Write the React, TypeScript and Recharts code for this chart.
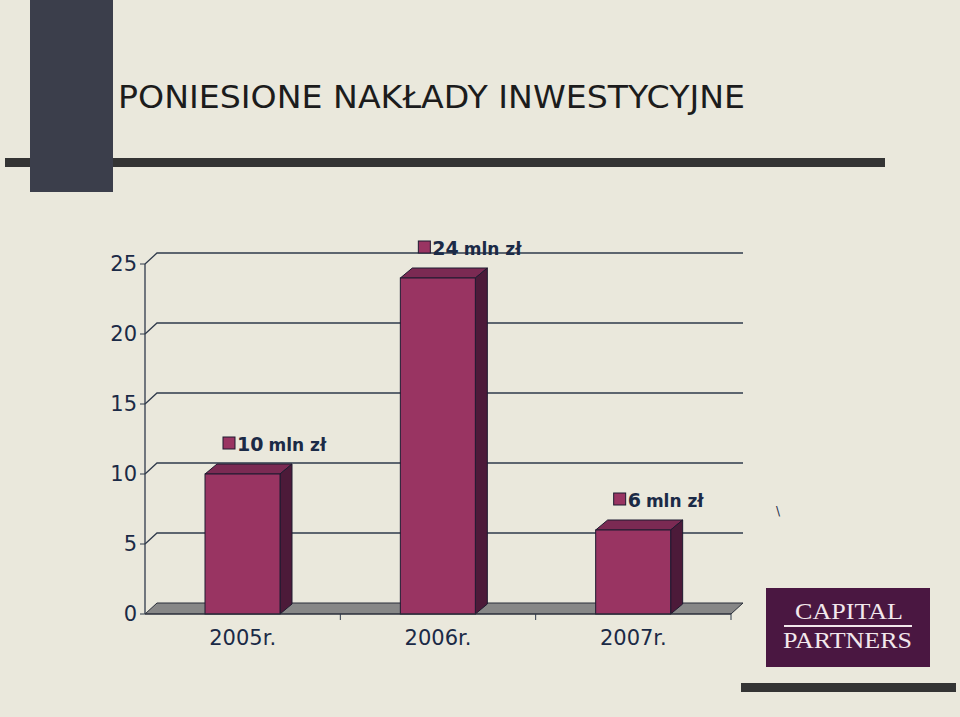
import { BarChart, Bar, XAxis, YAxis, CartesianGrid, LabelList } from 'recharts'

const categories = ['2005r.', '2006r.', '2007r.']
const investments = [10, 24, 6]
const yTicks = [0, 5, 10, 15, 20, 25]
const unit = 'mln zł'
const title = 'PONIESIONE NAKŁADY INWESTYCYJNE'

const data = categories.map((name, i) => ({ name, value: investments[i] }))

// 3D depth of the back wall
const DX = 12
const DY = 11

const FONT = '"DejaVu Sans", Verdana, sans-serif'
const INK = '#1b2a46'
const EDGE = '#1f1a30'
const GRID = '#2f3a4b'

const Bar3D = (props: any) => {
  const { x, y, width, height } = props
  return (
    <g>
      <path
        d={`M${x},${y} L${x + DX},${y - DY + 1} L${x + width + DX},${y - DY + 1} L${x + width},${y} Z`}
        fill="#7b2a53"
        stroke={EDGE}
        strokeWidth={1}
      />
      <path
        d={`M${x + width},${y} L${x + width + DX},${y - DY + 1} L${x + width + DX},${y + height - DY + 1} L${x + width},${y + height} Z`}
        fill="#4c1a39"
        stroke={EDGE}
        strokeWidth={1}
      />
      <rect x={x} y={y} width={width} height={height} fill="#993462" stroke={EDGE} strokeWidth={1} />
    </g>
  )
}

const BarLabel = (props: any) => {
  const { x, y, value } = props
  return (
    <g>
      <rect x={x + 18} y={y - 37} width={12} height={12} fill="#993462" stroke={EDGE} strokeWidth={1} />
      <text x={x + 32} y={y - 23} fill={INK} fontFamily={FONT} fontWeight="bold">
        <tspan fontSize={19}>{value}</tspan>
        <tspan fontSize={17} dx={5}>{unit}</tspan>
      </text>
    </g>
  )
}

// back-wall grid lines; the lowest one becomes the grey floor
const GridLine = (props: any) => {
  const { x1, y1, x2, y2, index } = props
  if (index === 0) {
    return (
      <path
        d={`M${x1},${y1} L${x1 + DX},${y1 - DY} L${x2 + DX},${y2 - DY} L${x2},${y2} Z`}
        fill="#878787"
        stroke="#2a2f3a"
        strokeWidth={1}
      />
    )
  }
  return (
    <path
      d={`M${x1},${y1} L${x1 + DX},${y1 - DY} L${x2 + DX},${y2 - DY}`}
      fill="none"
      stroke={GRID}
      strokeWidth={1.3}
    />
  )
}

const CategoryTick = (props: any) => {
  const { x, y, payload, width, visibleTicksCount } = props
  const band = width && visibleTicksCount ? width / visibleTicksCount : 195
  return (
    <g>
      <line x1={x + band / 2} y1={y - 8} x2={x + band / 2} y2={y - 2} stroke={GRID} />
      <text x={x} y={y + 23} textAnchor="middle" fontFamily={FONT} fontSize={21} fill={INK}>
        {payload.value}
      </text>
    </g>
  )
}

export default function App() {
  return (
    <div
      style={{
        position: 'absolute',
        left: 0,
        top: 0,
        width: 960,
        height: 717,
        background: '#eae8dc',
        overflow: 'hidden',
      }}
    >
      <svg width={960} height={717} style={{ position: 'absolute', left: 0, top: 0 }}>
        <rect x={5} y={158} width={880} height={9} fill="#343434" />
        <rect x={30} y={0} width={83} height={192} fill="#3b3e4b" />
        <text x={118} y={108} fontFamily={FONT} fontSize={32} fill="#1c1c1c" textLength={627} lengthAdjust="spacingAndGlyphs">
          {title}
        </text>
        <text x={776} y={515} fontFamily={FONT} fontSize={12} fill={INK}>\</text>
        <rect x={766} y={588} width={164} height={79} fill="#4a1741" />
        <text x={795} y={619} fontFamily='"Liberation Serif", serif' fontSize={23} fill="#f2e8ec" textLength={108} lengthAdjust="spacingAndGlyphs">
          CAPITAL
        </text>
        <rect x={784} y={625} width={128} height={2} fill="#f2e8ec" />
        <text x={783} y={648} fontFamily='"Liberation Serif", serif' fontSize={23} fill="#f2e8ec" textLength={129} lengthAdjust="spacingAndGlyphs">
          PARTNERS
        </text>
        <rect x={741} y={683} width={215} height={9} fill="#343434" />
      </svg>
      <div style={{ position: 'absolute', left: 0, top: 0 }}>
        <BarChart width={960} height={717} data={data} margin={{ top: 264, right: 229, bottom: 73, left: 100 }}>
          <CartesianGrid vertical={false} horizontal={GridLine} />
          <XAxis
            dataKey="name"
            axisLine={{ stroke: '#2a2f3a' }}
            tickLine={false}
            tick={<CategoryTick />}
            height={30}
          />
          <YAxis
            domain={[0, 25]}
            ticks={yTicks}
            width={45}
            axisLine={{ stroke: GRID, strokeWidth: 1.3 }}
            tickLine={{ stroke: GRID }}
            tickSize={5}
            tickMargin={3}
            tick={{ fontFamily: FONT, fontSize: 21, fill: INK }}
          />
          <Bar dataKey="value" barSize={75} shape={<Bar3D />} isAnimationActive={false}>
            <LabelList dataKey="value" content={<BarLabel />} />
          </Bar>
        </BarChart>
      </div>
    </div>
  )
}
